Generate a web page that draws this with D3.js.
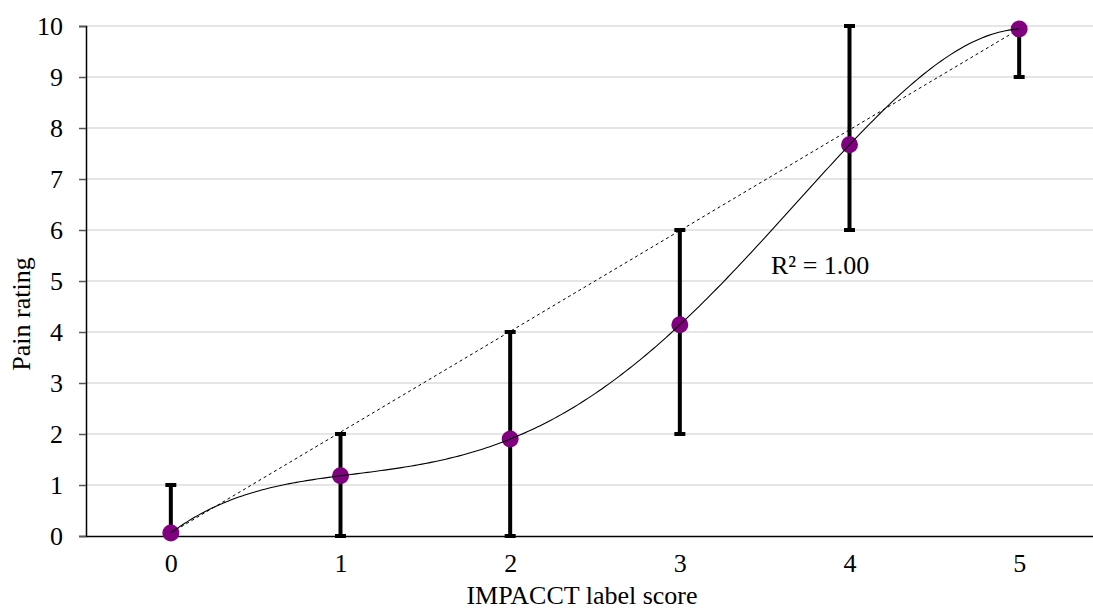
<!DOCTYPE html>
<html>
<head>
<meta charset="utf-8">
<script src="https://cdn.jsdelivr.net/npm/d3@7"></script>
<style>
  html, body { margin: 0; padding: 0; background: #fff; }
  svg { display: block; }
  text { font-family: "Liberation Serif", "Times New Roman", serif; fill: #000; }
</style>
</head>
<body>
<svg id="chart" width="1093" height="610"></svg>
<script>
// IMPACCT label score categories
const scores = [0, 1, 2, 3, 4, 5];
// Mean pain rating for each score
const meanPain = [0.06, 1.18, 1.90, 4.14, 7.67, 9.94];
// Error bar extents (low / high)
const barLow  = [0, 0, 0, 2, 6, 9];
const barHigh = [1, 2, 4, 6, 10, 10];
// Y-axis tick labels
const yTicks = [0, 1, 2, 3, 4, 5, 6, 7, 8, 9, 10];
const rSquaredLabel = "R² = 1.00";

const FONT = '"Liberation Serif", "Times New Roman", serif';
const svg = d3.select("#chart");

const x = d3.scaleLinear().domain([-0.5, 5.5]).range([86, 1104]);
const y = d3.scaleLinear().domain([0, 10]).range([536, 26]);

// Horizontal gridlines
svg.append("g")
  .selectAll("line")
  .data(yTicks.filter(d => d > 0))
  .join("line")
  .attr("x1", x(-0.5)).attr("x2", x(5.5))
  .attr("y1", d => y(d)).attr("y2", d => y(d))
  .attr("stroke", "#cccccc").attr("stroke-width", 1.2);

// Y axis
const yAxis = svg.append("g")
  .attr("transform", `translate(${x(-0.5)},0)`)
  .call(d3.axisLeft(y).tickValues(yTicks).tickSize(7).tickPadding(16).tickFormat(d3.format("d")));
yAxis.select(".domain").attr("stroke", "#000").attr("stroke-width", 1.5);
yAxis.selectAll(".tick line").attr("stroke", "#555").attr("stroke-width", 1.5);
yAxis.selectAll(".tick text")
  .style("font-family", FONT).style("font-size", "26px").attr("fill", "#000");

// X axis (labels only, no tick marks)
const xAxis = svg.append("g")
  .attr("transform", `translate(0,${y(0)})`)
  .call(d3.axisBottom(x).tickValues(scores).tickSize(0).tickPadding(18).tickFormat(d3.format("d")));
xAxis.select(".domain").attr("stroke", "#000").attr("stroke-width", 1.5);
xAxis.selectAll(".tick text")
  .style("font-family", FONT).style("font-size", "26px").attr("fill", "#000");

// Axis titles
svg.append("text")
  .attr("x", 582).attr("y", 604)
  .attr("text-anchor", "middle")
  .style("font-size", "26px")
  .text("IMPACCT label score");

svg.append("text")
  .attr("transform", "translate(30,314) rotate(-90)")
  .attr("text-anchor", "middle")
  .style("font-size", "26px")
  .text("Pain rating");

// Error bars
const bars = svg.append("g");
scores.forEach((s, i) => {
  bars.append("line")
    .attr("x1", x(s)).attr("x2", x(s))
    .attr("y1", y(barLow[i])).attr("y2", y(barHigh[i]))
    .attr("stroke", "#000").attr("stroke-width", 4);
  [barLow[i], barHigh[i]].forEach(v => {
    bars.append("line")
      .attr("x1", x(s) - 5.5).attr("x2", x(s) + 5.5)
      .attr("y1", y(v)).attr("y2", y(v))
      .attr("stroke", "#000").attr("stroke-width", 4);
  });
});

// Dashed reference line from first to last mean
svg.append("line")
  .attr("x1", x(scores[0])).attr("y1", y(meanPain[0]))
  .attr("x2", x(scores[scores.length - 1])).attr("y2", y(meanPain[meanPain.length - 1]))
  .attr("stroke", "#000").attr("stroke-width", 1).attr("stroke-dasharray", "3,3");

// Polynomial trendline (degree 5, through all six means)
function lagrange(xs, ys, t) {
  let sum = 0;
  for (let i = 0; i < xs.length; i++) {
    let term = ys[i];
    for (let j = 0; j < xs.length; j++) {
      if (j !== i) term *= (t - xs[j]) / (xs[i] - xs[j]);
    }
    sum += term;
  }
  return sum;
}
const trend = d3.range(0, 5.0001, 0.02).map(t => [t, lagrange(scores, meanPain, t)]);
const trendLine = d3.line().x(d => x(d[0])).y(d => y(d[1]));

// Mean markers
svg.append("g")
  .selectAll("circle")
  .data(scores)
  .join("circle")
  .attr("cx", d => x(d))
  .attr("cy", (d, i) => y(meanPain[i]))
  .attr("r", 8.5)
  .attr("fill", "#800080");

// Trendline drawn over the markers
svg.append("path")
  .datum(trend)
  .attr("fill", "none")
  .attr("stroke", "#000").attr("stroke-width", 1.1)
  .attr("d", trendLine);

// R² annotation
svg.append("text")
  .attr("x", 771).attr("y", 274)
  .style("font-size", "26px")
  .text(rSquaredLabel);
</script>
</body>
</html>
